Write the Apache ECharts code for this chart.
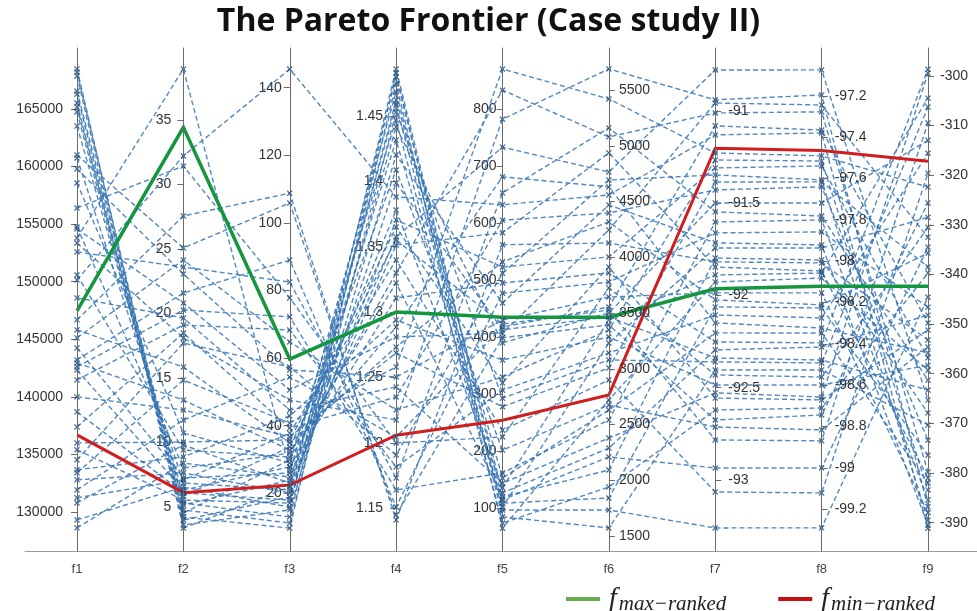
<!DOCTYPE html>
<html><head><meta charset="utf-8">
<script src="https://cdn.jsdelivr.net/npm/echarts@6/dist/echarts.min.js"></script>
<style>html,body{margin:0;padding:0;background:#fff}#c{width:977px;height:611px}</style>
</head><body><div id="c"></div>
<script>
const dims = ['f1','f2','f3','f4','f5','f6','f7','f8','f9'];

const f1 = [128610,153360,154580,165520,131910,150150,133390,145110,160750,134520,139990,137380,135390,152580,142590,143200,168480,144240,154750,146680,130780,153800,165170,159790,145810,166560,141460,142940,138690,142330,132780,166300,164740,168210,156400,133650,148590,163520,158570,161010,150580,135990,129300,131220,167870];
const f2 = [8.41,18.10,20.81,4.53,11.74,32.21,14.84,24.15,6.86,17.71,12.52,18.49,5.54,23.60,20.27,21.59,3.60,7.25,8.02,27.56,9.81,38.95,5.31,23.06,15.85,5.16,19.11,13.29,6.09,6.32,7.64,3.99,4.77,4.22,31.43,8.88,19.65,5.85,10.74,25.08,9.42,10.04,6.55,7.09,3.37];
const f3 = [24.8,47.6,50.6,29.9,54.4,145.5,40.8,64.8,21.0,57.4,36.7,39.3,17.1,82.5,72.2,89.0,15.1,26.0,31.9,108.8,23.0,26.9,13.0,56.5,34.9,23.9,68.3,32.8,18.0,27.8,20.1,18.9,11.2,9.7,77.8,42.9,44.6,33.7,29.0,105.9,30.7,35.8,15.9,37.8,21.9];
const f4 = [1.3575,1.2175,1.2810,1.3299,1.2045,1.3881,1.2581,1.2252,1.3705,1.1908,1.2688,1.2351,1.4416,1.1732,1.1640,1.1510,1.4202,1.4683,1.3223,1.1411,1.3513,1.3781,1.4745,1.2504,1.2733,1.4316,1.1816,1.2886,1.4622,1.3108,1.4798,1.3988,1.4531,1.4829,1.1999,1.2940,1.2428,1.3651,1.4469,1.1449,1.4087,1.3552,1.4859,1.3399,1.4584];
const f5 = [733,782,407,833,418,632,870,330,523,512,278,605,390,653,162,477,460,102,120,562,583,136,65,430,532,109,307,681,153,495,127,413,293,85,225,360,144,320,74,399,202,423,115,237,97];
const f6 = [4765,5689,4245,5079,3554,4559,5420,3348,4003,4693,3007,4397,3500,5160,2541,3778,4469,3231,2092,4128,4936,3438,2720,3644,4317,1841,3142,4631,2630,3859,2289,3464,3079,1572,3725,3285,2379,3913,1940,3393,2675,3527,2209,2899,1733];
const f7 = [-90.778,-90.940,-90.957,-91.011,-91.081,-91.130,-91.228,-91.266,-91.309,-91.347,-91.385,-91.428,-91.499,-91.547,-91.602,-91.661,-91.715,-91.743,-91.797,-91.818,-91.846,-91.889,-91.927,-91.986,-92.024,-92.062,-92.106,-92.149,-92.203,-92.252,-92.295,-92.339,-92.360,-92.404,-92.431,-92.485,-92.528,-92.556,-92.621,-92.675,-92.713,-92.783,-92.935,-93.065,-93.260];
const f8 = [-97.074,-97.195,-97.244,-97.277,-97.365,-97.379,-97.490,-97.515,-97.539,-97.606,-97.616,-97.640,-97.718,-97.781,-97.800,-97.858,-97.921,-97.936,-97.994,-98.008,-98.047,-98.057,-98.081,-98.153,-98.211,-98.226,-98.274,-98.323,-98.347,-98.395,-98.415,-98.478,-98.492,-98.526,-98.560,-98.599,-98.657,-98.671,-98.710,-98.744,-98.816,-98.869,-99.000,-99.121,-99.290];
const f9 = [-365.3,-386.8,-332.5,-379.8,-349.8,-391.1,-322.4,-383.4,-356.8,-389.5,-338.5,-373.4,-313.0,-361.3,-385.4,-346.6,-390.5,-328.5,-367.9,-353.2,-381.0,-304.5,-359.3,-388.0,-335.7,-376.4,-315.6,-355.8,-382.0,-298.7,-348.2,-363.3,-306.3,-370.3,-330.5,-358.3,-299.5,-351.2,-339.7,-325.6,-354.6,-309.5,-334.5,-319.6,-344.6];

const fMaxRanked = [147460,34.43,59.7,1.300,435,3463,-91.964,-98.121,-342.4];
const fMinRanked = [136690,6.11,22.46,1.2059,254.3,2766,-91.202,-97.464,-317.2];

const axisMin = [126600,1.59,2.93,1.1173,25.1,1365.5,-93.385,-99.402,-395.7];
const axisMax = [170300,40.58,151.75,1.502,906.9,5876.7,-90.659,-96.968,-294.4];
const tickValues = [
  [130000,135000,140000,145000,150000,155000,160000,165000],
  [5,10,15,20,25,30,35],
  [20,40,60,80,100,120,140],
  [1.15,1.2,1.25,1.3,1.35,1.4,1.45],
  [100,200,300,400,500,600,700,800],
  [1500,2000,2500,3000,3500,4000,4500,5000,5500],
  [-93,-92.5,-92,-91.5,-91],
  [-99.2,-99,-98.8,-98.6,-98.4,-98.2,-98,-97.8,-97.6,-97.4,-97.2],
  [-390,-380,-370,-360,-350,-340,-330,-320,-310,-300]
];

const cols = [f1,f2,f3,f4,f5,f6,f7,f8,f9];
const blueRows = f1.map((_, i) => cols.map(c => c[i]));

const PL = 77, PR = 49, PT = 48, PB = 60, W = 977;
const labelLeft = [true,true,true,true,true,false,false,false,false];
const labelMargin = [14,12,8,13,6,10,13,13,12];
const step = (W - PL - PR) / (dims.length - 1);
const fmt = v => String(v);
const labelFont = {color:'#333', fontSize:14, fontFamily:'Liberation Sans'};

const chart = echarts.init(document.getElementById('c'), null, {renderer:'canvas'});

const parallelAxis = dims.map((d, i) => ({
  dim: i, name: d, min: axisMin[i], max: axisMax[i],
  nameLocation: 'start', nameGap: 12,
  nameTextStyle: {color:'#444', fontSize:13, fontFamily:'Liberation Sans'},
  axisLine: {lineStyle:{color:'#6a6a6a', width:1}},
  axisTick: labelLeft[i]
    ? {show:false, length:0, customValues: tickValues[i], lineStyle:{color:'rgba(0,0,0,0)'}}
    : {show:true, length:6, customValues: tickValues[i], lineStyle:{color:'#6a6a6a'}},
  axisLabel: Object.assign({margin: labelMargin[i], customValues: tickValues[i],
    formatter: labelLeft[i] ? (() => '') : fmt}, labelFont),
  splitLine: {show:false}
}));

const grids = [], xAxes = [], yAxes = [], markerSeries = [];
const xPath = 'path://M0,1.5L1.5,0L5,3.5L8.5,0L10,1.5L6.5,5L10,8.5L8.5,10L5,6.5L1.5,10L0,8.5L3.5,5Z';
dims.forEach((d, i) => {
  const cx = PL + i * step;
  grids.push({left: cx, width: 10, top: PT, bottom: PB});
  xAxes.push({type:'value', gridIndex:i, min:0, max:1, show:false});
  yAxes.push({
    type:'value', gridIndex:i, min:axisMin[i], max:axisMax[i], position:'left',
    show: labelLeft[i],
    axisLine:{show:false},
    axisTick:{show:true, length:6, customValues: tickValues[i], lineStyle:{color:'#6a6a6a'}},
    axisLabel: Object.assign({show:true, margin: labelMargin[i], customValues: tickValues[i], formatter: fmt}, labelFont),
    splitLine:{show:false}
  });
  markerSeries.push({
    type:'scatter', xAxisIndex:i, yAxisIndex:i, silent:true,
    symbol: xPath, symbolSize: 6,
    itemStyle:{color:'#134a85'},
    data: cols[i].map(v => [0, v])
  });
});
// baseline grid
grids.push({left: 25, right: 0, top: PT, bottom: PB});
xAxes.push({type:'value', gridIndex:9, min:0, max:1, axisLine:{show:true, lineStyle:{color:'#9a9a9a'}}, axisTick:{show:false}, axisLabel:{show:false}, splitLine:{show:false}});
yAxes.push({type:'value', gridIndex:9, show:false});

const option = {
  animation: false,
  backgroundColor: '#fff',
  title: {
    text: 'The Pareto Frontier (Case study II)', left: 'center', top: 1,
    textStyle: {fontFamily:'Open Sans', fontWeight:'bold', fontSize:32, color:'#111'}
  },
  legend: {
    left: 561, top: 580, itemWidth: 34, itemHeight: 4, itemGap: 52, icon: 'rect',
    data: [
      {name:'f_max−ranked', itemStyle:{color:'#6aae52', borderWidth:0}},
      {name:'f_min−ranked', itemStyle:{color:'#c80e0e', borderWidth:0}}
    ],
    formatter: n => '{f|f}{s|' + n.split('_')[1] + '}',
    textStyle: { rich: {
      f: {fontFamily:'Liberation Serif', fontStyle:'italic', fontSize:28, color:'#222', padding:[0,2,0,4]},
      s: {fontFamily:'Liberation Serif', fontStyle:'italic', fontSize:21, color:'#222', padding:[10,0,0,0]}
    }}
  },
  parallel: {left: PL, right: PR, top: PT, bottom: PB, layout:'horizontal'},
  parallelAxis,
  grid: grids, xAxis: xAxes, yAxis: yAxes,
  series: [
    {type:'parallel', name:'blue', silent:true, data: blueRows,
     lineStyle:{color:'#3573b2', width:1.4, type:[5,3], opacity:0.85}},
    ...markerSeries,
    {type:'parallel', name:'f_max−ranked', silent:true, data:[fMaxRanked], itemStyle:{color:'#13963d'},
     lineStyle:{color:'#13963d', width:3.5, opacity:1}},
    {type:'parallel', name:'f_min−ranked', silent:true, data:[fMinRanked], itemStyle:{color:'#d01e1e'},
     lineStyle:{color:'#d01e1e', width:3, opacity:1}}
  ]
};
chart.setOption(option);
</script></body></html>
